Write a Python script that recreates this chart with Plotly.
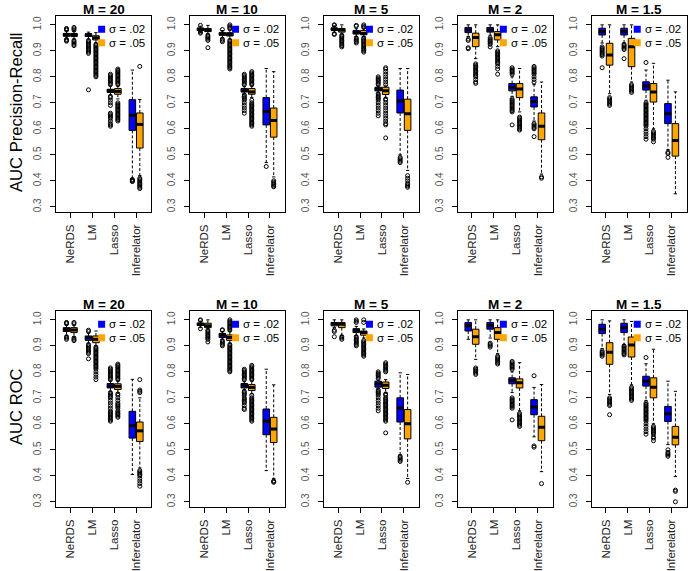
import plotly.graph_objects as go

METHODS = ["NeRDS", "LM", "Lasso", "Inferelator"]
M_LABELS = ["M = 20", "M = 10", "M = 5", "M = 2", "M = 1.5"]
SIGMA_LABELS = ["σ = .02", "σ = .05"]
ROW_TITLES = ["AUC Precision-Recall", "AUC ROC"]
Y_TICKS = [0.3, 0.4, 0.5, 0.6, 0.7, 0.8, 0.9, 1.0]
COLORS = ["#0000FF", "#FFA500"]

# ---------------- AUC Precision-Recall ----------------
PR_20_A = dict(q1=[.956, .955, .740, .594], med=[.962, .962, .745, .652], q3=[.967, .966, .752, .712],
               lo=[.948, .945, .730, .410], hi=[.977, .972, .765, .826],
               out=[[.980, .983, .986, .944, .940, .937],
                    [.940, .935, .930, .925, .920, .915, .910, .905, .900, .895, .890, .750],
                    [.770, .775, .780, .785, .790, .795, .800, .805, .810, .725, .720, .710, .700, .690,
                     .660, .655, .650, .645, .640, .630, .620, .615, .610],
                    [.405, .402, .399, .397]])
PR_20_B = dict(q1=[.955, .942, .733, .526], med=[.962, .950, .744, .617], q3=[.967, .958, .755, .661],
               lo=[.945, .930, .715, .420], hi=[.975, .970, .765, .713],
               out=[[.980, .985, .990, .940, .935, .930, .925, .920],
                    [.925, .920, .915, .910, .905, .900, .895, .890, .885, .880, .875, .870, .865, .860,
                     .855, .850, .845, .840, .835, .830, .825, .820, .815, .810, .805, .800],
                    [.770, .775, .780, .785, .790, .795, .800, .805, .810, .815, .820, .825, .830,
                     .700, .695, .690, .685, .680, .675, .670, .665, .660, .655, .650, .645, .640, .635, .630],
                    [.840, .410, .405, .400, .395, .390, .385, .380, .375, .370]])
PR_10_A = dict(q1=[.978, .960, .742, .615], med=[.983, .965, .746, .667], q3=[.988, .970, .755, .720],
               lo=[.970, .950, .735, .470], hi=[.995, .978, .762, .832],
               out=[[.998, .972, .968],
                    [.945, .940, .935, .982],
                    [.770, .775, .780, .785, .790, .795, .800, .805, .810, .730, .725, .720, .715, .710,
                     .700, .690, .680, .670, .660],
                    [.455]])
PR_10_B = dict(q1=[.974, .957, .733, .568], med=[.980, .963, .742, .632], q3=[.986, .970, .755, .680],
               lo=[.965, .945, .720, .415], hi=[.998, .980, .765, .820],
               out=[[.960, .955, .950, .945, .940, .912],
                    [.985, .990, .995, 1.0, .940, .935, .930, .925, .920, .915, .910, .905, .900, .895, .890,
                     .885, .880, .875, .870, .865, .860, .855, .850, .845, .840, .835, .830],
                    [.770, .775, .780, .785, .790, .795, .800, .805, .810, .815, .820, .710, .700, .695,
                     .690, .685, .680, .675, .670, .665, .660, .655, .650, .645, .640, .635, .630, .625,
                     .620, .615, .610],
                    [.400, .395, .390, .385, .380, .377]])
PR_5_A = dict(q1=[.978, .965, .746, .661], med=[.984, .970, .752, .707], q3=[.988, .978, .760, .749],
              lo=[.970, .955, .740, .500], hi=[.996, .985, .765, .832],
              out=[[1.0, .998, .966, .963],
                   [.995, .998, .950, .945, .940, .935, .930],
                   [.770, .775, .780, .785, .790, .795, .800, .735, .730, .725, .720, .715, .710, .700,
                    .690, .680, .670, .660, .650],
                   [.490, .485, .480, .475, .470]])
PR_5_B = dict(q1=[.972, .962, .732, .594], med=[.980, .967, .746, .658], q3=[.986, .978, .760, .714],
              lo=[.965, .955, .720, .440], hi=[1.0, .985, .765, .832],
              out=[[.960, .955, .950, .945, .940, .935, .930, .925, .920, .915],
                   [.990, .995, 1.0, .950, .945, .940, .935, .930, .925, .920, .915, .910, .905, .900, .895],
                   [.770, .780, .790, .800, .810, .820, .830, .835, .715, .710, .700, .690, .680, .670,
                    .660, .650, .640, .630, .620, .615, .565],
                   [.420, .410, .400, .390, .385, .380, .375]])
PR_2_A = dict(q1=[.970, .972, .746, .684], med=[.980, .980, .759, .705], q3=[.990, .990, .774, .723],
              lo=[.955, .960, .725, .630], hi=[1.0, 1.0, .800, .770],
              out=[[.945, .940, .912, .908],
                   [.950, .945, .940, .935, .930, .925, .915],
                   [.835, .830, .825, .820, .815, .810, .715, .710, .705, .700, .695, .690, .685, .680,
                    .675, .670, .665, .615],
                   [.840, .835, .830, .825, .820, .815, .810, .800, .790, .780, .620, .615, .610, .605,
                    .600, .570]])
PR_2_B = dict(q1=[.916, .942, .720, .558], med=[.951, .962, .753, .610], q3=[.968, .974, .774, .661],
              lo=[.870, .916, .665, .426], hi=[1.0, 1.0, .832, .780],
              out=[[.850, .845, .840, .835, .830, .825, .820, .815, .810, .805, .800, .790, .780, .775],
                   [.900, .895, .890, .885, .880, .875, .870, .865, .860, .855, .850, .840, .830, .810],
                   [.645, .640, .635, .630, .625, .620, .615, .610, .605, .600, .595],
                   [.415, .410]])
PR_15_A = dict(q1=[.961, .961, .749, .620], med=[.974, .974, .765, .658], q3=[.987, .987, .781, .697],
               lo=[.930, .930, .710, .520], hi=[1.0, 1.0, .826, .787],
               out=[[.915, .910, .905, .900, .895, .890, .885, .880, .835],
                    [.925, .920, .915, .910, .905, .870],
                    [.855, .700, .695, .690, .685, .680, .675, .670, .665, .660, .655, .650, .645, .640,
                     .635, .630, .625, .620, .615, .610, .600, .590, .580, .570, .560],
                    [.510, .505, .490]])
PR_15_B = dict(q1=[.845, .839, .703, .495], med=[.884, .916, .742, .555], q3=[.929, .948, .774, .620],
               lo=[.735, .780, .600, .350], hi=[1.0, 1.0, .852, .742],
               out=[[.720, .715, .710, .705, .700, .695, .690],
                    [.770, .765, .760, .755, .750, .745, .740],
                    [.590, .585, .580, .575, .570, .565, .560, .550],
                    []])

# ---------------- AUC ROC ----------------
ROC_20_A = dict(q1=[.955, .921, .738, .545], med=[.963, .932, .745, .593], q3=[.970, .938, .755, .648],
                lo=[.940, .910, .725, .405], hi=[.980, .950, .765, .771],
                out=[[.985, .988, .990, .935, .930, .925],
                     [.955, .960, .905, .900, .895, .890, .885, .880, .875, .870, .850],
                     [.770, .775, .780, .785, .790, .795, .800, .805, .810, .815, .720, .715, .710, .705,
                      .700, .690, .680, .670, .660, .650, .645, .640, .635, .630, .625, .620, .615, .610],
                     []])
ROC_20_B = dict(q1=[.951, .912, .732, .532], med=[.961, .925, .744, .573], q3=[.970, .938, .754, .607],
                lo=[.935, .900, .720, .430], hi=[.980, .957, .765, .700],
                out=[[.985, .990, .930, .925, .920],
                     [.895, .890, .885, .880, .875, .870, .865, .860, .855, .850, .845, .840, .835, .830,
                      .825, .820, .815, .810, .800, .790, .780, .770],
                     [.770, .775, .780, .785, .790, .795, .800, .805, .810, .815, .820, .825, .830, .715,
                      .710, .700, .690, .680, .675, .670, .665, .660, .650, .645, .640, .635, .630, .625],
                     [.770, .730, .725, .720, .420, .415, .410, .405, .400, .390, .380, .370, .360]])
ROC_10_A = dict(q1=[.978, .932, .738, .558], med=[.983, .942, .746, .610], q3=[.988, .948, .755, .657],
                lo=[.970, .925, .730, .420], hi=[.995, .955, .762, .810],
                out=[[1.0, .998, .966],
                     [.960, .962, .920, .915, .910, .905, .900],
                     [.770, .775, .780, .785, .790, .795, .800, .805, .810, .725, .720, .715, .710, .700,
                      .695, .690, .685, .680, .670, .660, .655],
                     []])
ROC_10_B = dict(q1=[.970, .921, .728, .528], med=[.977, .932, .740, .580], q3=[.987, .942, .751, .625],
                lo=[.965, .910, .715, .390], hi=[1.0, .955, .765, .750],
                out=[[.960, .955, .950, .945, .940, .935, .930, .925, .915],
                     [.960, .965, .970, .975, .980, .985, .990, .995, 1.0, .905, .900, .895, .890, .885,
                      .880, .875, .870, .865, .860, .855, .850, .845, .840, .835, .830, .825, .820, .815,
                      .810, .805, .800],
                     [.770, .775, .780, .785, .790, .795, .800, .805, .810, .815, .820, .825, .710, .700,
                      .695, .690, .685, .680, .675, .670, .665, .660, .655, .650, .645, .640, .635, .630,
                      .625, .620, .615, .610],
                     [.380, .378, .375]])
ROC_5_A = dict(q1=[.977, .951, .741, .607], med=[.986, .960, .754, .661], q3=[.990, .966, .764, .700],
               lo=[.970, .940, .735, .480], hi=[1.0, .975, .768, .796],
               out=[[.960, .955, .935],
                    [.990, .995, 1.0, .935, .930, .925, .920, .915, .910, .905, .900],
                    [.775, .780, .785, .790, .795, .800, .730, .725, .720, .715, .710, .700, .690, .680,
                     .670, .660, .650],
                    [.475, .470, .465, .460, .455]])
ROC_5_B = dict(q1=[.970, .941, .736, .542], med=[.983, .951, .748, .600], q3=[.990, .957, .761, .655],
               lo=[.940, .930, .720, .390], hi=[1.0, .965, .770, .790],
               out=[[.935, .930, .925],
                    [.990, 1.0, .920, .915, .910, .905, .900, .895, .890, .885, .880, .875, .870, .865, .860],
                    [.800, .805, .810, .815, .820, .825, .830, .835, .715, .710, .700, .695, .690, .685,
                     .680, .675, .670, .665, .660, .655, .650, .645, .640, .635, .630, .625, .620, .615,
                     .610, .565],
                    [.375]])
ROC_2_A = dict(q1=[.957, .964, .754, .635], med=[.977, .978, .767, .665], q3=[.990, .990, .777, .693],
               lo=[.925, .930, .720, .550], hi=[1.0, 1.0, .800, .740],
               out=[[],
                    [.910, .905, .900, .895],
                    [.840, .835, .830, .825, .820, .815, .810, .700, .695, .690, .685, .680, .675, .670,
                     .665, .660, .615],
                    [.785, .515, .510]])
ROC_2_B = dict(q1=[.906, .925, .738, .535], med=[.935, .951, .758, .587], q3=[.964, .970, .773, .629],
               lo=[.848, .870, .650, .416], hi=[1.0, 1.0, .835, .751],
               out=[[.815, .810, .805, .800, .795, .790],
                    [.860, .855, .850, .845, .840, .835, .830],
                    [.640, .635, .630, .625, .620, .615, .610, .605, .600, .595, .590],
                    [.370]])
ROC_15_A = dict(q1=[.947, .951, .745, .609], med=[.964, .970, .764, .639], q3=[.983, .987, .783, .667],
                lo=[.890, .905, .690, .520], hi=[1.0, 1.0, .831, .764],
                out=[[.880, .875, .870, .865, .860],
                     [.900, .895, .890, .885, .880, .875, .870, .865],
                     [.855, .680, .675, .670, .665, .660, .655, .650, .645, .640, .635, .630, .625, .620,
                      .615, .610, .600, .590, .580, .570, .560],
                     [.500, .490, .485, .480, .475]])
ROC_15_B = dict(q1=[.829, .857, .700, .519], med=[.875, .903, .741, .548], q3=[.912, .934, .777, .590],
                lo=[.713, .750, .600, .397], hi=[.996, .994, .887, .725],
                out=[[.700, .695, .690, .685, .680, .675, .670, .635],
                     [.740, .735, .730, .725, .720, .715, .710, .705, .700, .695, .690],
                     [.590, .585, .580, .575, .570, .565, .560, .550, .545, .535],
                     [.345, .340, .300]])

PANELS = [
    [(PR_20_A, PR_20_B), (PR_10_A, PR_10_B), (PR_5_A, PR_5_B), (PR_2_A, PR_2_B), (PR_15_A, PR_15_B)],
    [(ROC_20_A, ROC_20_B), (ROC_10_A, ROC_10_B), (ROC_5_A, ROC_5_B), (ROC_2_A, ROC_2_B), (ROC_15_A, ROC_15_B)],
]

# ---------------- layout geometry (pixels) ----------------
W, H = 689, 571
PANEL_LEFT0, PANEL_STEP, PANEL_W = 56, 133.9, 95
ROW_TOP = [16, 311]
PANEL_H = 196
X_RANGE = [0.35, 4.68]
Y_RANGE = [0.28, 1.034]
OFFSET = 0.17
BOX_W = 0.30
FONT = "Liberation Sans, Arial, sans-serif"

fig = go.Figure()
layout = dict(width=W, height=H, margin=dict(l=0, r=0, t=0, b=0),
              paper_bgcolor="white", plot_bgcolor="white", showlegend=False,
              font=dict(family=FONT, color="black"), annotations=[])

for r in range(2):
    for c in range(5):
        n = r * 5 + c + 1
        xa = "x" if n == 1 else f"x{n}"
        ya = "y" if n == 1 else f"y{n}"
        left = PANEL_LEFT0 + PANEL_STEP * c
        top = ROW_TOP[r]
        layout["xaxis" if n == 1 else f"xaxis{n}"] = dict(
            domain=[left / W, (left + PANEL_W) / W], range=X_RANGE, type="linear",
            anchor=ya, showgrid=False, zeroline=False, showline=True, linecolor="black",
            linewidth=1, mirror=True, ticks="outside", ticklen=5, tickcolor="black",
            tickvals=[1, 2, 3, 4], ticktext=METHODS, tickangle=-90, ticklabelstandoff=2,
            tickfont=dict(size=11.5, color="#222", family=FONT))
        layout["yaxis" if n == 1 else f"yaxis{n}"] = dict(
            domain=[1 - (top + PANEL_H) / H, 1 - top / H], range=Y_RANGE,
            anchor=xa, showgrid=False, zeroline=False, showline=True, linecolor="black",
            linewidth=1, mirror=True, ticks="outside", ticklen=5, tickcolor="black",
            tickvals=Y_TICKS, ticktext=[f"{v:.1f}" for v in Y_TICKS], tickangle=-90,
            ticklabelstandoff=5,
            tickfont=dict(size=10, color="#555", family=FONT))

        for s, d in enumerate(PANELS[r][c]):
            pos = [i + 1 + (OFFSET if s else -OFFSET) for i in range(4)]
            fig.add_trace(go.Box(x=pos, q1=d["q1"], median=d["med"], q3=d["q3"],
                                 lowerfence=d["q1"], upperfence=d["q3"], width=BOX_W,
                                 fillcolor=COLORS[s], line=dict(color="black", width=1),
                                 whiskerwidth=0, boxpoints=False, hoverinfo="skip",
                                 xaxis=xa, yaxis=ya))
            wx, wy, cx, cy, mx, my, ox, oy = [], [], [], [], [], [], [], []
            for i in range(4):
                p = pos[i]
                if d["hi"][i] > d["q3"][i]:
                    wx += [p, p, None]; wy += [d["q3"][i], d["hi"][i], None]
                    cx += [p - BOX_W / 4, p + BOX_W / 4, None]; cy += [d["hi"][i], d["hi"][i], None]
                if d["lo"][i] < d["q1"][i]:
                    wx += [p, p, None]; wy += [d["q1"][i], d["lo"][i], None]
                    cx += [p - BOX_W / 4, p + BOX_W / 4, None]; cy += [d["lo"][i], d["lo"][i], None]
                mx += [p - BOX_W / 2, p + BOX_W / 2, None]; my += [d["med"][i]] * 2 + [None]
                ox += [p] * len(d["out"][i]); oy += d["out"][i]
            fig.add_trace(go.Scatter(x=wx, y=wy, mode="lines", hoverinfo="skip",
                                     line=dict(color="black", width=1, dash="3px,2px"),
                                     xaxis=xa, yaxis=ya))
            fig.add_trace(go.Scatter(x=cx, y=cy, mode="lines", hoverinfo="skip",
                                     line=dict(color="black", width=1), xaxis=xa, yaxis=ya))
            fig.add_trace(go.Scatter(x=mx, y=my, mode="lines", hoverinfo="skip",
                                     line=dict(color="black", width=3), xaxis=xa, yaxis=ya))
            fig.add_trace(go.Scatter(x=ox, y=oy, mode="markers", hoverinfo="skip",
                                     marker=dict(symbol="circle-open", size=4,
                                                 line=dict(color="black", width=1), color="black"),
                                     xaxis=xa, yaxis=ya))

        # in-panel legend
        leg_y = [0.983, 0.931]
        fig.add_trace(go.Scatter(x=[2.43, 2.43], y=leg_y, mode="markers", hoverinfo="skip",
                                 marker=dict(symbol="square", size=7, color=COLORS,
                                             line=dict(width=0)),
                                 xaxis=xa, yaxis=ya))
        for s in range(2):
            layout["annotations"].append(dict(
                x=2.68, y=leg_y[s], xref=xa, yref=ya, text=SIGMA_LABELS[s], showarrow=False,
                xanchor="left", yanchor="middle", font=dict(size=11.5, family=FONT, color="black")))

        # panel title
        layout["annotations"].append(dict(
            x=(left + PANEL_W / 2) / W, y=1 - (top - 6.5) / H, xref="paper", yref="paper",
            text=f"<b>{M_LABELS[c]}</b>", showarrow=False, xanchor="center", yanchor="middle",
            font=dict(size=13.5, family=FONT, color="black")))

    layout["annotations"].append(dict(
        x=16 / W, y=1 - (ROW_TOP[r] + 96) / H, xref="paper", yref="paper",
        text=ROW_TITLES[r], textangle=-90, showarrow=False, xanchor="center", yanchor="middle",
        font=dict(size=16.6, family=FONT, color="black")))

fig.update_layout(**layout)
fig.write_html("out.html", config={"displayModeBar": False},
               post_script="document.body.style.margin='0';document.body.style.overflow='hidden';")
